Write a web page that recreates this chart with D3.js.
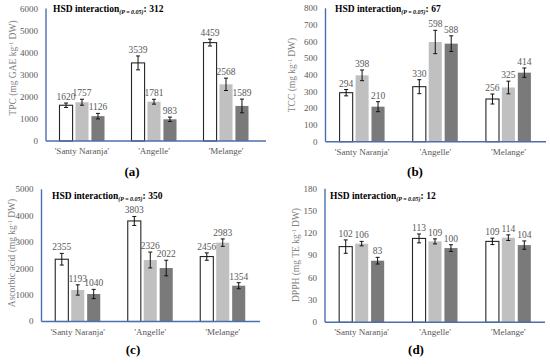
<!DOCTYPE html>
<html>
<head>
<meta charset="utf-8">
<script src="https://cdn.jsdelivr.net/npm/d3@7"></script>
<style>
  body { margin: 0; background: #fff; }
  text { font-family: "Liberation Serif", "DejaVu Serif", serif; }
</style>
</head>
<body>
<svg width="550" height="364"></svg>
<script>
// cultivars and the three treatments (white, light grey, dark grey bars)
var cultivars = ["'Santy Naranja'", "'Angelle'", "'Melange'"];
var series = ["t1", "t2", "t3"];

// (a) TPC
var tpc = [[1620, 1757, 1126], [3539, 1781, 983], [4459, 2568, 1589]];
var tpcErr = [[100, 135, 125], [315, 110, 100], [155, 280, 310]];
var tpcTicks = [0, 1000, 2000, 3000, 4000, 5000, 6000];

// (b) TCC
var tcc = [[294, 398, 210], [330, 598, 588], [256, 325, 414]];
var tccErr = [[19, 32, 30], [42, 70, 47], [30, 38, 28]];
var tccTicks = [0, 100, 200, 300, 400, 500, 600, 700, 800];

// (c) ascorbic acid
var asc = [[2355, 1193, 1040], [3803, 2326, 2022], [2456, 2983, 1354]];
var ascErr = [[220, 195, 175], [170, 300, 295], [140, 140, 115]];
var ascTicks = [0, 1000, 2000, 3000, 4000, 5000];

// (d) DPPH
var dpph = [[102, 106, 83], [113, 109, 100], [109, 114, 104]];
var dpphErr = [[9, 3, 4.5], [6, 3.4, 4.5], [4.3, 3.8, 5.6]];
var dpphTicks = [0, 30, 60, 90, 120, 150, 180];

var hsd = ["312", "67", "350", "12"];
var letters = ["(a)", "(b)", "(c)", "(d)"];

var colors = {t1: "#ffffff", t2: "#c0c0c0", t3: "#7a7a7a"};
var axisBlue = "#4a6fae";

var svg = d3.select("svg");

// layout for each panel
var panels = [
  {vals: tpc, errs: tpcErr, ticks: tpcTicks, hsd: hsd[0], letter: letters[0],
   title: ["TPC (mg GAE kg", "-1", " DW)"],
   x0: 46, x1: 262, axisEnd: 266, yb: 141, yt: 8.6,
   titleX: 13, titleY: 68, hsdX: 53, hsdY: 12, catY: 154, letX: 132, letY: 176},
  {vals: tcc, errs: tccErr, ticks: tccTicks, hsd: hsd[1], letter: letters[1],
   title: ["TCC (mg kg", "-1", " DW)"],
   x0: 325.5, x1: 545, axisEnd: 546, yb: 141.7, yt: 8.3,
   titleX: 292, titleY: 75, hsdX: 335, hsdY: 12, catY: 155, letX: 415, letY: 176},
  {vals: asc, errs: ascErr, ticks: ascTicks, hsd: hsd[2], letter: letters[2],
   title: ["Ascorbic acid (mg kg", "-1", " DW)"],
   x0: 41.5, x1: 259, axisEnd: 260, yb: 321.5, yt: 189.3,
   titleX: 12, titleY: 253, hsdX: 52, hsdY: 199, catY: 335, letX: 133, letY: 354},
  {vals: dpph, errs: dpphErr, ticks: dpphTicks, hsd: hsd[3], letter: letters[3],
   title: ["DPPH (mg TE kg", "-1", " DW)"],
   x0: 325, x1: 545, axisEnd: 545, yb: 322.3, yt: 188.7,
   titleX: 296, titleY: 255, hsdX: 330, hsdY: 199, catY: 335, letX: 416, letY: 354}
];

panels.forEach(drawPanel);

function drawPanel(p) {
  var g = svg.append("g");

  var x = d3.scaleBand().domain(cultivars).range([p.x0, p.x1]);
  var xs = d3.scaleBand().domain(series).range([-22.5, 22.5]).paddingInner(0.18);
  var y = d3.scaleLinear()
    .domain([0, p.ticks[p.ticks.length - 1]])
    .range([p.yb, p.yt]);

  // tick labels
  g.selectAll("text.tick")
    .data(p.ticks)
    .enter()
    .append("text")
    .attr("class", "tick")
    .attr("x", p.x0 - 8)
    .attr("y", function(d) { return y(d); })
    .attr("dy", "0.33em")
    .attr("text-anchor", "end")
    .attr("font-size", 9)
    .attr("fill", "#595959")
    .text(function(d) { return d; });

  // flatten data
  var rows = [];
  p.vals.forEach(function(r, i) {
    r.forEach(function(v, j) {
      rows.push({cat: cultivars[i], s: series[j], v: v, e: p.errs[i][j]});
    });
  });

  var cx = function(d) { return x(d.cat) + x.bandwidth() / 2 + xs(d.s) + xs.bandwidth() / 2; };

  g.selectAll("rect.bar")
    .data(rows)
    .enter()
    .append("rect")
    .attr("class", "bar")
    .attr("x", function(d) { return x(d.cat) + x.bandwidth() / 2 + xs(d.s); })
    .attr("y", function(d) { return y(d.v); })
    .attr("width", xs.bandwidth())
    .attr("height", function(d) { return y(0) - y(d.v); })
    .attr("fill", function(d) { return colors[d.s]; })
    .attr("stroke", function(d) { return d.s === "t1" ? "#262626" : "none"; })
    .attr("stroke-width", 1.1);

  // error bars
  var eb = g.selectAll("g.err")
    .data(rows)
    .enter()
    .append("g")
    .attr("class", "err")
    .attr("stroke", "#111")
    .attr("stroke-width", 1);
  eb.append("line")
    .attr("x1", cx).attr("x2", cx)
    .attr("y1", function(d) { return y(d.v + d.e); })
    .attr("y2", function(d) { return y(d.v - d.e); });
  eb.append("line")
    .attr("x1", function(d) { return cx(d) - 2; })
    .attr("x2", function(d) { return cx(d) + 2; })
    .attr("y1", function(d) { return y(d.v + d.e); })
    .attr("y2", function(d) { return y(d.v + d.e); });
  eb.append("line")
    .attr("x1", function(d) { return cx(d) - 2; })
    .attr("x2", function(d) { return cx(d) + 2; })
    .attr("y1", function(d) { return y(d.v - d.e); })
    .attr("y2", function(d) { return y(d.v - d.e); });

  // value labels
  g.selectAll("text.val")
    .data(rows)
    .enter()
    .append("text")
    .attr("class", "val")
    .attr("x", cx)
    .attr("y", function(d) { return y(d.v + d.e) - 3; })
    .attr("text-anchor", "middle")
    .attr("font-size", 9.5)
    .attr("fill", "#595959")
    .text(function(d) { return d.v; });

  // axes lines
  g.append("line")
    .attr("x1", p.x0).attr("x2", p.x0)
    .attr("y1", y.range()[1]).attr("y2", y(0))
    .attr("stroke", axisBlue).attr("stroke-width", 1.4);
  g.append("line")
    .attr("x1", p.x0).attr("x2", p.axisEnd)
    .attr("y1", y(0)).attr("y2", y(0))
    .attr("stroke", axisBlue).attr("stroke-width", 1.4);

  // category labels
  g.selectAll("text.cat")
    .data(cultivars)
    .enter()
    .append("text")
    .attr("class", "cat")
    .attr("x", function(d) { return x(d) + x.bandwidth() / 2; })
    .attr("y", p.catY)
    .attr("text-anchor", "middle")
    .attr("font-size", 9)
    .attr("fill", "#595959")
    .text(function(d) { return d; });

  // y title
  var t = g.append("text")
    .attr("transform", "translate(" + p.titleX + "," + p.titleY + ") rotate(-90)")
    .attr("text-anchor", "middle")
    .attr("dy", "0.35em")
    .attr("font-size", 9.5)
    .attr("fill", "#7f7f7f");
  t.append("tspan").text(p.title[0]);
  t.append("tspan").attr("font-size", 6).attr("dy", -3).text(p.title[1]);
  t.append("tspan").attr("dy", 3).text(p.title[2]);

  // HSD note
  var h = g.append("text")
    .attr("x", p.hsdX)
    .attr("y", p.hsdY)
    .attr("font-size", 9.5)
    .attr("font-weight", "bold")
    .attr("fill", "#000");
  h.append("tspan").text("HSD interaction");
  h.append("tspan").attr("font-size", 6).attr("font-style", "italic").attr("dy", 2).text("(P = 0.05)");
  h.append("tspan").attr("dy", -2).text(": " + p.hsd);

  // panel letter
  g.append("text")
    .attr("x", p.letX)
    .attr("y", p.letY)
    .attr("text-anchor", "middle")
    .attr("font-size", 13)
    .attr("font-weight", "bold")
    .attr("fill", "#000")
    .text(p.letter);
}
</script>
</body>
</html>
